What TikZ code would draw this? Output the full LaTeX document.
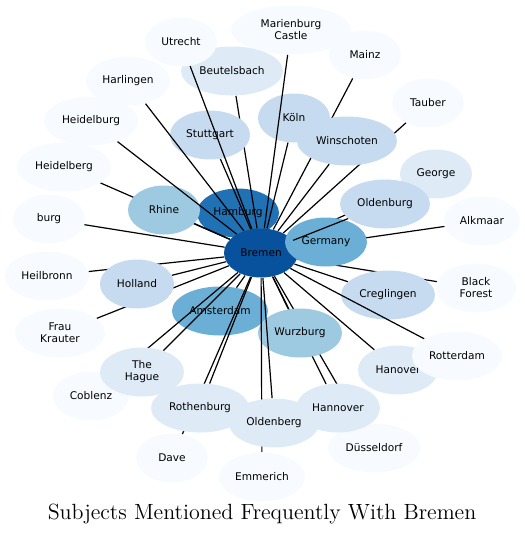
\documentclass[tikz,border=0pt]{standalone}
\usepackage{fontspec}
\newfontfamily\labelfont{DejaVu Sans}
\usetikzlibrary{shapes.geometric}

\definecolor{blues1}{HTML}{F7FBFF}
\definecolor{blues2}{HTML}{DEEBF7}
\definecolor{blues3}{HTML}{C6DBEF}
\definecolor{blues4}{HTML}{9ECAE1}
\definecolor{blues5}{HTML}{6BAED6}
\definecolor{blues6}{HTML}{2171B5}
\definecolor{blues7}{HTML}{08519C}

\pgfdeclarelayer{lowedges}
\pgfdeclarelayer{lownodes}
\pgfdeclarelayer{midedges}
\pgfdeclarelayer{topedges}
\pgfsetlayers{lowedges,lownodes,midedges,main,topedges}

\begin{document}
\begin{tikzpicture}[x=0.5pt, y=-0.5pt,
    subject/.style={ellipse, fill=#1, inner sep=1pt, minimum height=24.5pt,
        align=center, font=\labelfont\fontsize{5.3}{6}\selectfont},
    link/.style={line width=0.6pt}]
    \useasboundingbox (0,0) rectangle (525,537);

    % Title
    \node[font=\fontsize{11}{13}\selectfont] (title) at (262,514) {Subjects Mentioned Frequently With Bremen};

    % Centre and the nodes lying under most edges
    \begin{pgfonlayer}{lownodes}
        \node[subject=blues6, minimum width=41pt] (hamburg) at (238,213) {Hamburg};
        \node[subject=blues7, minimum width=37pt] (bremen) at (261,253) {Bremen};
        \node[subject=blues5, minimum width=48pt] (amsterdam) at (220,311) {Amsterdam};
        \node[subject=blues4, minimum width=42pt] (wurzburg) at (300,333) {Wurzburg};
    \end{pgfonlayer}

    % Upper ring
    \node[subject=blues1, minimum width=60pt] (marienburg) at (291,30) {Marienburg\\Castle};
    \node[subject=blues2, minimum width=51pt] (beutelsbach) at (232,71) {Beutelsbach};
    \node[subject=blues1, minimum width=36pt] (utrecht) at (181,42) {Utrecht};
    \node[subject=blues1, minimum width=36pt] (mainz) at (365,55) {Mainz};
    \node[subject=blues1, minimum width=42pt] (harlingen) at (128,81) {Harlingen};
    \node[subject=blues1, minimum width=36pt] (tauber) at (428,103) {Tauber};
    \node[subject=blues1, minimum width=47pt] (heidelburg) at (91,121) {Heidelburg};
    \node[subject=blues1, minimum width=47pt] (heidelberg) at (64,167) {Heidelberg};
    \node[subject=blues3, minimum width=40pt] (stuttgart) at (210,135) {Stuttgart};
    \node[subject=blues3, minimum width=36pt] (koeln) at (294,118) {Köln};
    \node[subject=blues3, minimum width=50pt] (winschoten) at (347,141) {Winschoten};
    \node[subject=blues2, minimum width=36pt] (george) at (436,174) {George};

    % Middle ring
    \node[subject=blues4, minimum width=36pt] (rhine) at (164,210) {Rhine};
    \node[subject=blues3, minimum width=45pt] (oldenburg) at (385,204) {Oldenburg};
    \node[subject=blues1, minimum width=36pt] (burg) at (49,219) {burg};
    \node[subject=blues1, minimum width=38pt] (alkmaar) at (482,221) {Alkmaar};
    \node[subject=blues5, minimum width=41pt] (germany) at (326,242) {Germany};
    \node[subject=blues1, minimum width=42pt] (heilbronn) at (47,276) {Heilbronn};
    \node[subject=blues3, minimum width=37pt] (holland) at (137,284) {Holland};
    \node[subject=blues3, minimum width=47pt] (creglingen) at (388,295) {Creglingen};
    \node[subject=blues1, minimum width=40pt] (blackforest) at (476,288) {Black\\Forest};

    % Lower ring
    \node[subject=blues1, minimum width=45pt] (fraukrauter) at (60,333) {Frau\\Krauter};
    \node[subject=blues1, minimum width=38pt] (coblenz) at (91,396) {Coblenz};
    \node[subject=blues2, minimum width=42pt] (thehague) at (142,372) {The\\Hague};
    \node[subject=blues1, minimum width=46pt] (duesseldorf) at (374,448) {Düsseldorf};
    \node[subject=blues2, minimum width=49pt] (rothenburg) at (200,408) {Rothenburg};
    \node[subject=blues1, minimum width=36pt] (dave) at (172,458) {Dave};
    \node[subject=blues2, minimum width=45pt] (oldenberg) at (274,423) {Oldenberg};
    \node[subject=blues2, minimum width=42pt] (hannover) at (338,408) {Hannover};
    \node[subject=blues2, minimum width=40pt] (hanover) at (398,370) {Hanover};
    \node[subject=blues1, minimum width=45pt] (rotterdam) at (457,356) {Rotterdam};
    \node[subject=blues1, minimum width=43pt] (emmerich) at (262,477) {Emmerich};

    % Links from Bremen
    \begin{pgfonlayer}{lowedges}
        \foreach \n in {hamburg, germany, hannover, duesseldorf}
            \draw[link] (bremen) -- (\n);
    \end{pgfonlayer}
    \begin{pgfonlayer}{midedges}
        \foreach \n in {beutelsbach, heidelberg, heilbronn, fraukrauter, coblenz, dave,
                emmerich, tauber, mainz, george, alkmaar, blackforest}
            \draw[link] (bremen) -- (\n);
    \end{pgfonlayer}
    \begin{pgfonlayer}{topedges}
        \foreach \n in {utrecht, marienburg, harlingen, heidelburg, stuttgart, koeln,
                winschoten, oldenburg, rhine, burg, holland, amsterdam, thehague,
                rothenburg, wurzburg, creglingen, rotterdam, hanover, oldenberg}
            \draw[link] (bremen) -- (\n);
    \end{pgfonlayer}
\end{tikzpicture}
\end{document}
